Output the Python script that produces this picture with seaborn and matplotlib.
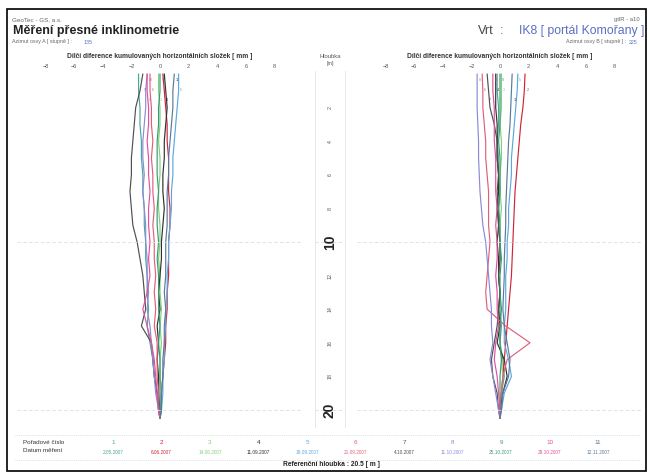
import pandas as pd
import matplotlib.pyplot as plt
import seaborn as sns
from matplotlib.patches import Rectangle
from matplotlib.lines import Line2D

# depth of the readings [m]
DEPTH = [0, 1, 2, 3, 4, 5, 6, 7, 8, 9, 10, 11, 12, 13, 14, 15, 16, 17, 18, 19, 20, 20.5]

SERIES_NO = ["1", "2", "3", "4", "5", "6", "7", "8", "9", "10", "11"]
DATES = ["2.05.2007", "6.06.2007", "14.06.2007", "11.09.2007", "18.09.2007", "21.09.2007",
         "4.10.2007", "11.10.2007", "25.10.2007", "29.10.2007", "12.11.2007"]
COLORS = ["#4aa89a", "#d0243c", "#7fd07f", "#303030", "#5aa8e0", "#e0607a",
          "#505050", "#8a8ad8", "#3a9a70", "#e050a0", "#5a7a9a"]

# axis A [mm]
A_1 = [-1.5, -1.5, -1.4, -1.4, -1.3, -1.3, -1.2, -1.2, -1.1, -1.1, -1.0, -1.0, -0.9, -0.9, -0.8, -0.9, -0.7, -0.5, -0.4, -0.2, -0.1, 0]
A_2 = [0.2, 0.3, 0.4, 0.5, 0.5, 0.6, 0.6, 0.6, 0.7, 0.7, 0.6, 0.6, 0.6, 0.5, 0.5, 0.4, 0.4, 0.3, 0.2, 0.1, 0.1, 0]
A_3 = [-0.1, -0.1, 0.0, 0.0, -0.1, 0.0, 0.0, -0.1, -0.1, 0.0, 0.0, -0.1, 0.0, 0.0, 0.1, 0.0, 0.1, 0.0, 0.0, 0.1, 0.0, 0]
A_4 = [0.3, 0.4, 0.5, 0.4, 0.3, 0.3, 0.2, 0.2, 0.3, 0.2, 0.1, 0.1, 0.0, -0.1, 0.0, -0.2, -0.1, -0.2, -0.1, -0.1, 0.0, 0]
A_5 = [1.3, 1.3, 1.2, 1.1, 1.0, 0.9, 0.9, 0.8, 0.8, 0.7, 0.6, 0.6, 0.5, 0.5, 0.4, 0.4, 0.3, 0.3, 0.2, 0.2, 0.1, 0]
A_6 = [-0.7, -0.7, -0.6, -0.6, -0.5, -0.6, -0.5, -0.5, -0.4, -0.5, -0.4, -0.4, -0.3, -0.4, -0.3, -0.4, -0.2, -0.2, -0.2, -0.1, -0.1, 0]
A_7 = [-1.2, -1.4, -1.7, -1.8, -1.9, -2.0, -2.0, -2.1, -2.0, -1.9, -1.6, -1.4, -1.2, -1.1, -1.0, -1.3, -0.6, -0.5, -0.4, -0.2, -0.1, 0]
A_8 = [-0.9, -1.0, -1.0, -1.1, -1.2, -1.2, -1.1, -1.2, -1.1, -1.0, -1.0, -0.9, -0.9, -0.8, -0.9, -0.7, -0.6, -0.5, -0.4, -0.3, -0.1, 0]
A_9 = [0.0, 0.0, -0.1, -0.1, -0.2, -0.2, -0.2, -0.1, -0.2, -0.2, -0.1, -0.2, -0.1, -0.1, -0.1, 0.0, -0.1, 0.0, 0.0, 0.0, 0.0, 0]
A_10 = [-0.9, -0.9, -0.8, -0.8, -0.9, -0.8, -0.8, -0.7, -0.8, -0.8, -0.7, -0.8, -0.7, -0.9, -1.2, -0.9, -0.6, -0.4, -0.3, -0.2, -0.1, 0]
A_11 = [1.0, 0.9, 0.9, 0.8, 0.7, 0.6, 0.6, 0.5, 0.5, 0.5, 0.4, 0.4, 0.4, 0.3, 0.4, 0.3, 0.3, 0.2, 0.2, 0.1, 0.1, 0]

# axis B [mm]
B_1 = [-0.2, -0.2, -0.1, -0.1, -0.2, -0.1, -0.1, 0.0, -0.1, -0.1, 0.0, 0.0, -0.1, 0.0, 0.0, 0.1, 0.0, 0.2, 0.3, 0.1, 0.0, 0]
B_2 = [1.75, 1.7, 1.6, 1.45, 1.35, 1.25, 1.15, 1.05, 1.0, 0.95, 0.9, 0.85, 0.8, 0.7, 0.6, 0.5, 0.4, 0.3, 0.2, 0.1, 0.05, 0]
B_3 = [0.1, 0.1, 0.1, 0.0, 0.1, 0.1, 0.0, 0.0, 0.1, 0.0, 0.0, 0.0, -0.1, 0.0, 0.0, -0.1, 0.0, 0.1, 0.2, 0.1, 0.0, 0]
B_4 = [-0.3, -0.3, -0.3, -0.2, -0.2, -0.2, -0.1, -0.1, -0.2, -0.1, -0.2, -0.1, -0.1, 0.0, -0.1, 0.0, -0.2, 0.3, 0.5, 0.2, 0.0, 0]
B_5 = [1.25, 1.2, 1.1, 1.0, 0.9, 0.8, 0.8, 0.7, 0.6, 0.6, 0.5, 0.5, 0.4, 0.4, 0.4, 0.3, 0.3, 0.6, 0.8, 0.3, 0.1, 0]
B_6 = [-1.25, -1.2, -1.2, -1.1, -1.0, -1.0, -0.9, -0.8, -0.8, -0.8, -0.7, -0.8, -0.9, -1.0, -0.9, 0.4, 2.1, 0.5, 0.2, 0.1, 0.0, 0]
B_7 = [-0.9, -0.8, -0.7, -0.4, -0.2, -0.2, -0.1, -0.2, -0.1, -0.1, 0.0, 0.0, -0.1, 0.0, -0.1, -0.2, -0.4, -0.6, -0.5, -0.2, -0.1, 0]
B_8 = [-1.6, -1.6, -1.6, -1.55, -1.5, -1.5, -1.45, -1.4, -1.3, -1.2, -1.0, -0.9, -0.8, -0.7, -0.6, -0.6, -0.5, -0.7, -0.5, -0.3, -0.1, 0]
B_9 = [0.0, 0.0, 0.0, 0.0, -0.1, 0.0, 0.0, 0.0, -0.1, 0.0, 0.0, 0.1, 0.0, 0.0, 0.1, 0.0, 0.0, 0.1, 0.0, 0.0, 0.0, 0]
B_10 = [-0.5, -0.5, -0.4, -0.4, -0.4, -0.3, -0.3, -0.3, -0.2, -0.3, -0.2, -0.2, -0.3, -0.2, -0.2, -0.1, -0.3, -0.4, -0.2, -0.1, 0.0, 0]
B_11 = [0.85, 0.8, 0.75, 0.7, 0.6, 0.55, 0.5, 0.45, 0.4, 0.4, 0.35, 0.3, 0.3, 0.25, 0.2, 0.3, 0.5, 0.7, 0.6, 0.2, 0.1, 0]

A_SERIES = [A_1, A_2, A_3, A_4, A_5, A_6, A_7, A_8, A_9, A_10, A_11]
B_SERIES = [B_1, B_2, B_3, B_4, B_5, B_6, B_7, B_8, B_9, B_10, B_11]

W, H = 650, 474
Y_TOP, Y_BOT = -0.2, 21.0


def long_frame(series_list):
    parts = []
    for no, vals in zip(SERIES_NO, series_list):
        parts.append(pd.DataFrame({"depth": DEPTH, "value": vals, "series": no}))
    return pd.concat(parts, ignore_index=True)


def px_rect(x0, y0, x1, y1):
    return [x0 / W, 1 - y1 / H, (x1 - x0) / W, (y1 - y0) / H]


sns.set_theme(style="white")
plt.rcParams["font.family"] = ["Liberation Sans", "DejaVu Sans"]

fig = plt.figure(figsize=(6.5, 4.74), dpi=100)


def ftext(x, y, s, **kw):
    fig.text(x / W, 1 - y / H, s, **kw)


palette = dict(zip(SERIES_NO, COLORS))
panel_title = "Dílčí diference kumulovaných horizontálních složek [ mm ]"

# two deflection panels
for (x0, x1), data in [((17, 303), A_SERIES), ((357, 643), B_SERIES)]:
    ax = fig.add_axes(px_rect(x0, 70.6, x1, 426.8))
    df = long_frame(data)
    sns.lineplot(data=df, x="value", y="depth", hue="series", palette=palette,
                 orient="y", sort=False, estimator=None, legend=False, lw=0.85, ax=ax)
    ax.set_xlim(-10, 10)
    ax.set_ylim(Y_BOT, Y_TOP)
    ax.set_xticks(range(-8, 9, 2))
    ax.set_yticks([])
    ax.xaxis.tick_top()
    ax.tick_params(axis="x", length=0, pad=1.5, labelsize=4, labelcolor="#555555")
    ax.set_xlabel("")
    ax.set_ylabel("")
    for s in ax.spines.values():
        s.set_visible(False)
    for d in (10, 20):
        ax.axhline(d, color="#dddddd", lw=0.6, ls=(0, (4, 3)))
    # small series numbers at the top of each curve, staggered so they don't collide
    order = sorted(range(len(data)), key=lambda k: data[k][0])
    for rank, k in enumerate(order):
        ax.text(data[k][0] + 0.1, 0.35 + 0.6 * (rank % 3), SERIES_NO[k],
                fontsize=2.6, color=COLORS[k], va="center")
    ftext((x0 + x1) / 2, 57, panel_title, fontsize=4.8, fontweight="bold",
          color="#333333", ha="center", va="center")

# depth column in the middle
axd = fig.add_axes(px_rect(315, 70.6, 345, 426.8))
axd.set_ylim(Y_BOT, Y_TOP)
axd.set_xticks([])
axd.set_yticks([])
axd.patch.set_alpha(0)
for side in ("top", "bottom"):
    axd.spines[side].set_visible(False)
for side in ("left", "right"):
    axd.spines[side].set_color("#e4e4e4")
    axd.spines[side].set_linewidth(0.6)
for d in (10, 20):
    axd.axhline(d, color="#dddddd", lw=0.6, ls=(0, (4, 3)))
tr = axd.get_yaxis_transform()
for d in range(2, 21, 2):
    big = d % 10 == 0
    axd.text(0.5, d, str(d), transform=tr, rotation=90, ha="center", va="center",
             fontsize=10 if big else 3.8, fontweight="bold" if big else "normal",
             color="#222222" if big else "#555555")
ftext(330, 57, "Hloubka", fontsize=4.2, color="#555555", ha="center", va="center")
ftext(330, 64, "[m]", fontsize=3.8, color="#555555", ha="center", va="center")

# header
ftext(12, 20, "GeoTec - GS, a.s.", fontsize=4.5, color="#666666", va="center")
ftext(13, 31, "Měření přesné inklinometrie", fontsize=9, fontweight="bold",
      color="#222222", va="center")
ftext(12, 42, "Azimut osvy A [ stupně ] :", fontsize=3.8, color="#666666", va="center")
ftext(84, 42, "135", fontsize=3.8, color="#5a6fc0", va="center")
ftext(640, 19, "gtlR - a10", fontsize=4.2, color="#666666", ha="right", va="center")
ftext(478, 31, "Vrt", fontsize=9, color="#444444", va="center")
ftext(500, 31, ":", fontsize=9, color="#5a6fc0", va="center")
ftext(644, 31, "IK8 [ portál Komořany ]", fontsize=8.8, color="#5a6fc0", ha="right", va="center")
ftext(626, 42, "Azimut osvy B [ stupně ] :", fontsize=3.8, color="#666666", ha="right", va="center")
ftext(629, 42, "225", fontsize=3.8, color="#5a6fc0", va="center")

# table of measurements
ftext(23, 443, "Pořadové číslo", fontsize=4.5, color="#333333", va="center")
ftext(23, 451, "Datum měření", fontsize=4.5, color="#333333", va="center")
for i, (no, date, c) in enumerate(zip(SERIES_NO, DATES, COLORS)):
    xc = 113 + 48.5 * i
    ftext(xc, 443, no, fontsize=4.5, color=c, ha="center", va="center")
    ftext(xc, 452, date, fontsize=3.4, color=c, ha="center", va="center")
for yl in (435, 460):
    fig.add_artist(Line2D([15 / W, 640 / W], [1 - yl / H, 1 - yl / H],
                          transform=fig.transFigure, color="#c8c8c8", lw=0.5, ls=":"))
ftext(331, 465, "Referenční hloubka : 20.5 [ m ]", fontsize=4.8, fontweight="bold",
      color="#222222", ha="center", va="center")

# outer frame
fig.add_artist(Rectangle((7 / W, 1 - 471 / H), 639 / W, 462 / H, transform=fig.transFigure,
                         fill=False, ec="black", lw=1.2))

fig.savefig("out.png", dpi=100)
